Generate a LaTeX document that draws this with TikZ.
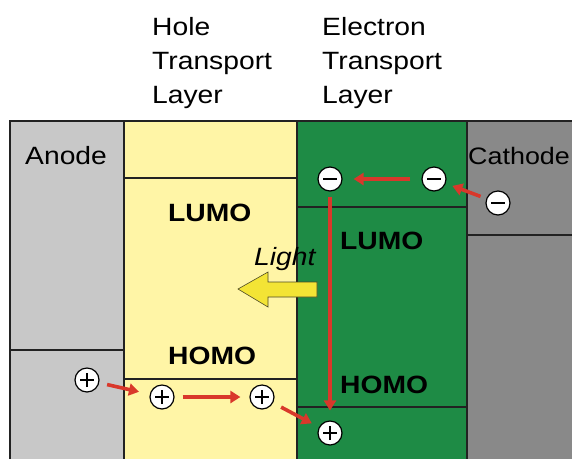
\documentclass[tikz,border=0pt]{standalone}
\usepackage{fontspec}
\setmainfont{Liberation Sans}
\newfontfamily\hv[FakeStretch=1.13]{Liberation Sans}
\usetikzlibrary{arrows.meta}
\definecolor{anodegray}{HTML}{C8C8C8}
\definecolor{cathgray}{HTML}{898989}
\definecolor{htlyellow}{HTML}{FFF5A6}
\definecolor{etlgreen}{HTML}{1E8B45}
\definecolor{arrowred}{HTML}{D9382B}
\definecolor{lightyellow}{HTML}{F3E435}
\definecolor{edge}{HTML}{222222}
\begin{document}
\begin{tikzpicture}[x=1pt,y=-1pt,
  lbl/.style={anchor=base west, inner sep=0, font=\hv\fontsize{25}{29}\selectfont},
  lvl/.style={anchor=base west, inner sep=0, font=\hv\bfseries\fontsize{25}{29}\selectfont},
  elec/.style={circle, draw=black, fill=white, line width=1.2pt, minimum size=24pt, inner sep=0,
    path picture={\draw[line width=1.4pt] ([xshift=-7pt]path picture bounding box.center) -- ([xshift=7pt]path picture bounding box.center);}},
  hole/.style={elec, path picture={\draw[line width=1.2pt] ([xshift=-7pt]path picture bounding box.center) -- ([xshift=7pt]path picture bounding box.center) ([yshift=-7pt]path picture bounding box.center) -- ([yshift=7pt]path picture bounding box.center);}},
  flow/.style={draw=arrowred, line width=3.6pt, -{Triangle[length=10pt,width=12pt]}},
  sep/.style={draw=edge, line width=1.3pt}
]
\useasboundingbox (0,0) rectangle (572,459);
% layers
\fill[anodegray] (10,121) rectangle (124,459);
\fill[htlyellow] (124,121) rectangle (297,459);
\fill[etlgreen] (297,121) rectangle (467,459);
\fill[cathgray] (467,121) rectangle (572,459);
\draw[sep] (10,459) -- (10,121) -- (572,121);
\draw[sep] (124,121) -- (124,459);
\draw[sep] (297,121) -- (297,459);
\draw[sep] (467,121) -- (467,459);
\draw[sep] (10,350) -- (124,350);
\draw[sep] (124,178) -- (297,178);
\draw[sep] (124,379) -- (297,379);
\draw[sep] (297,207) -- (467,207);
\draw[sep] (297,407) -- (467,407);
\draw[sep] (467,235) -- (572,235);
% headings
\node[lbl] (h1) at (152,35) {Hole};
\node[lbl] (h2) at (152,69) {Transport};
\node[lbl] (h3) at (152,103) {Layer};
\node[lbl] (e1t) at (322,35) {Electron};
\node[lbl] (e2t) at (322,69) {Transport};
\node[lbl] (e3t) at (322,103) {Layer};
\node[lbl] (anode) at (25,164) {Anode};
\node[lbl, font=\hv\fontsize{23.8}{28}\selectfont] (cathode) at (468,164) {Cathode};
\node[lvl] (lumo1) at (168,221) {LUMO};
\node[lvl] (homo1) at (168,364) {HOMO};
\node[lvl] (lumo2) at (340,249) {LUMO};
\node[lvl] (homo2) at (340,393) {HOMO};
\node[anchor=base west, inner sep=0, font=\hv\itshape\fontsize{25}{29}\selectfont] (light) at (254,265) {Light};
% light arrow
\draw[draw=edge!80!lightyellow, line width=0.6pt, fill=lightyellow]
  (238,289) -- (268,272) -- (268,282) -- (317,282) -- (317,297) -- (268,297) -- (268,307) -- cycle;
% carriers
\node[elec] (m1) at (330,179) {};
\node[elec] (m2) at (434,179) {};
\node[elec] (m3) at (498,203) {};
\node[hole] (p1) at (87,380) {};
\node[hole] (p2) at (162,397) {};
\node[hole] (p3) at (262,397) {};
\node[hole] (p4) at (330,433) {};
% flows
\draw[flow, shorten <=11pt, shorten >=11pt] (m2) -- (m1);
\draw[flow, shorten <=6pt, shorten >=7pt] (m3) -- (m2);
\draw[flow, shorten <=5pt, shorten >=10pt] (m1) -- (p4);
\draw[flow, shorten <=8pt, shorten >=11pt] (p1) -- (p2);
\draw[flow, shorten <=8pt, shorten >=9pt] (p2) -- (p3);
\draw[flow, shorten <=9pt, shorten >=8pt] (p3) -- (p4);
\end{tikzpicture}
\end{document}
